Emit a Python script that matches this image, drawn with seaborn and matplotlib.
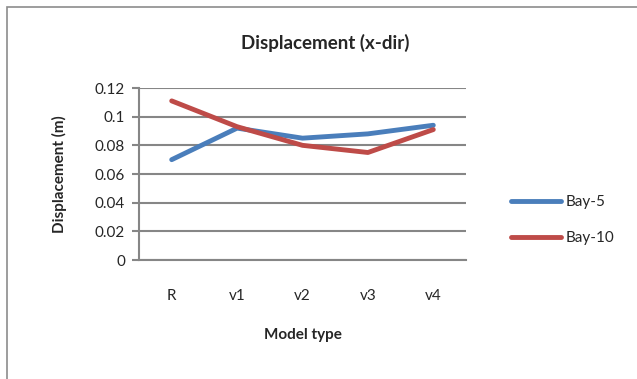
import matplotlib
matplotlib.use("Agg")
import matplotlib.pyplot as plt
import seaborn as sns
import pandas as pd
from matplotlib.patches import Rectangle
from matplotlib.lines import Line2D

categories = ["R", "v1", "v2", "v3", "v4"]
bay5 = [0.070, 0.092, 0.085, 0.088, 0.094]
bay10 = [0.111, 0.093, 0.080, 0.075, 0.091]
series_names = ["Bay-5", "Bay-10"]
yticks = [0, 0.02, 0.04, 0.06, 0.08, 0.1, 0.12]
ytick_labels = ["0", "0.02", "0.04", "0.06", "0.08", "0.1", "0.12"]

df = pd.DataFrame({
    "Model type": categories * 2,
    "pos": list(range(len(categories))) * 2,
    "Displacement": bay5 + bay10,
    "Series": [series_names[0]] * len(categories) + [series_names[1]] * len(categories),
})

sns.set_style("white")
plt.rcParams['font.family'] = ['Lato', 'DejaVu Sans']

W, H = 637, 379
fig = plt.figure(figsize=(W / 100, H / 100), dpi=100)
ax = fig.add_axes([139 / W, 1 - 260 / H, (466 - 139) / W, (260 - 88) / H])

grid_color = "#868686"
colors = ["#4a7ebb", "#be4b48"]
sns.lineplot(data=df, x="pos", y="Displacement", hue="Series",
             palette=colors, linewidth=3.5, ax=ax,
             legend=False, sort=False)

ax.set_xlim(-0.5, len(categories) - 0.5)
ax.set_ylim(0, 0.12)
ax.set_xticks(range(len(categories)))
ax.set_xticklabels(categories)
ax.set_yticks(yticks)
ax.set_yticklabels(ytick_labels)
ax.yaxis.grid(True, color=grid_color, linewidth=1.5)
ax.set_axisbelow(True)
for s in ["top", "right"]:
    ax.spines[s].set_visible(False)
ax.spines["left"].set_color(grid_color)
ax.spines["left"].set_linewidth(1.5)
ax.spines["bottom"].set_color(grid_color)
ax.spines["bottom"].set_linewidth(1.5)
ax.tick_params(axis="y", which="major", length=5, width=1.5, color=grid_color,
               left=True, labelsize=11, pad=5)
ax.tick_params(axis="x", length=0, labelsize=11, pad=21)

ax.set_xlabel("Model type", fontsize=11, fontweight="bold", labelpad=18)
ax.set_ylabel("Displacement (m)", fontsize=11, fontweight="bold", labelpad=20)
fig.text(325 / W, 1 - 43 / H, "Displacement (x-dir)", ha="center", va="center",
         fontsize=13.5, fontweight="bold")

handles = [Line2D([], [], color=colors[0], linewidth=3.5),
           Line2D([], [], color=colors[1], linewidth=3.5)]
fig.legend(handles, series_names, loc="center left",
           bbox_to_anchor=(497 / W, 1 - 220 / H), frameon=False,
           fontsize=11, handlelength=3.3, labelspacing=1.45, handletextpad=0.3)

fig.patches.append(Rectangle((7 / W, -0.1), 1.2, 1 - 7 / H + 0.1,
                             transform=fig.transFigure, fill=False,
                             edgecolor="#8c8c8c", linewidth=1.2))

fig.savefig("out.png", dpi=100)
